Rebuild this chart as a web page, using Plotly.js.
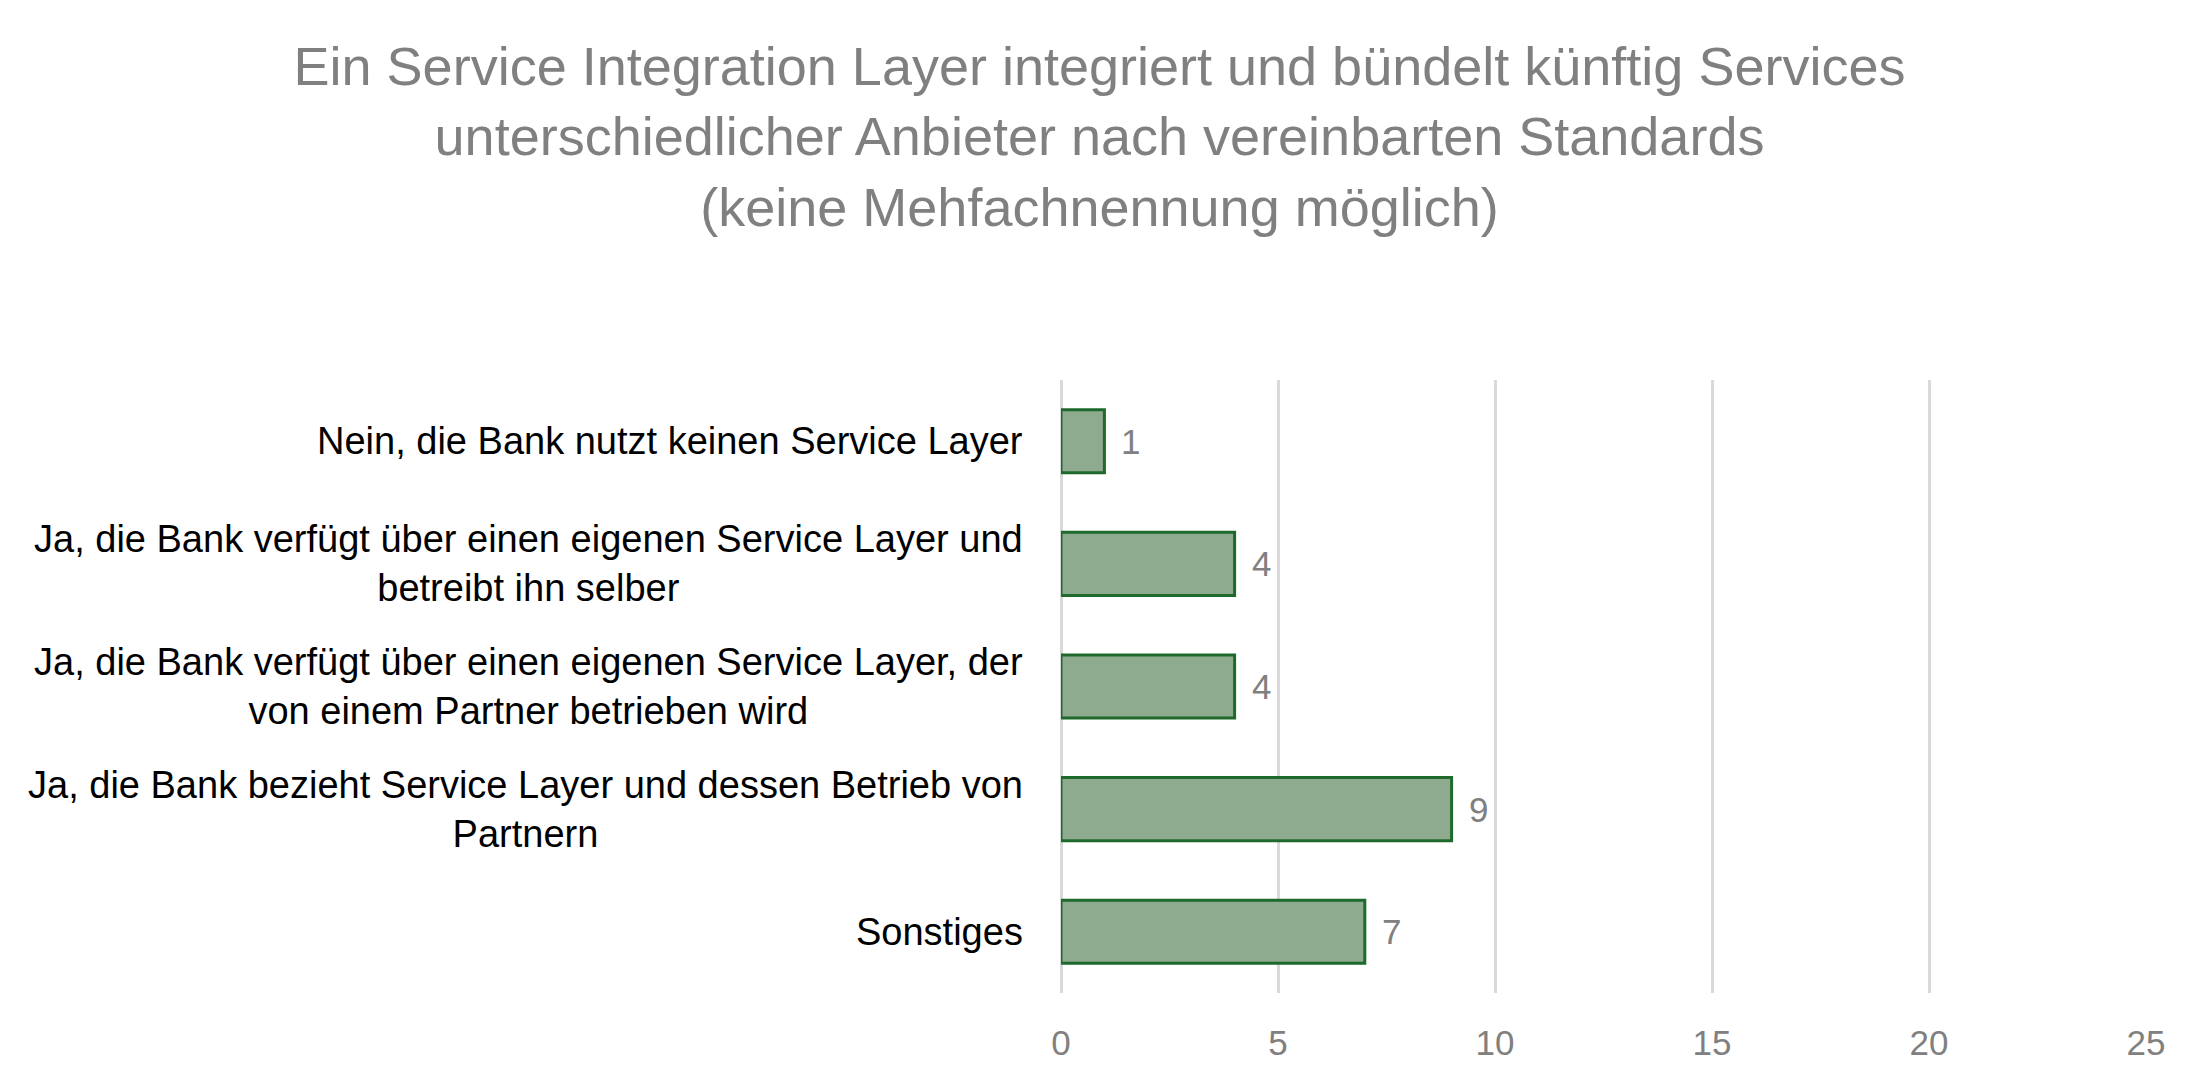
<!DOCTYPE html>
<html>
<head>
<meta charset="utf-8">
<script src="https://cdn.plot.ly/plotly-3.0.1.min.js"></script>
<style>html,body{margin:0;padding:0;background:#fff;}#chart{width:2199px;height:1092px;}</style>
</head>
<body>
<div id="chart"></div>
<script>
const categories = [
  "Nein, die Bank nutzt keinen Service Layer",
  "Ja, die Bank verfügt über einen eigenen Service Layer und<br>betreibt ihn selber",
  "Ja, die Bank verfügt über einen eigenen Service Layer, der<br>von einem Partner betrieben wird",
  "Ja, die Bank bezieht Service Layer und dessen Betrieb von<br>Partnern",
  "Sonstiges"
];
const values = [1, 4, 4, 9, 7];
const xTicks = [0, 5, 10, 15, 20, 25];
const titleText = "Ein Service Integration Layer integriert und bündelt künftig Services<br>unterschiedlicher Anbieter nach vereinbarten Standards<br>(keine Mehfachnennung möglich)";

const font = "'Liberation Sans', Arial, sans-serif";

const trace = {
  type: 'bar',
  orientation: 'h',
  x: values,
  y: categories,
  marker: { color: '#8fab8f', line: { color: '#1e6a2c', width: 3 } },
  hoverinfo: 'none'
};

const annotations = [];
categories.forEach((c, i) => {
  annotations.push({
    xref: 'paper', yref: 'y', x: 0, y: c, xanchor: 'right', yanchor: 'middle',
    xshift: -36, align: 'center', showarrow: false, text: c,
    font: { family: font, size: 38, color: '#000000' }
  });
  annotations.push({
    xref: 'x', yref: 'y', x: values[i], y: c, xanchor: 'left', yanchor: 'middle',
    xshift: 15, showarrow: false, text: String(values[i]),
    font: { family: font, size: 35, color: '#808080' }
  });
});

const layout = {
  width: 2199, height: 1092,
  paper_bgcolor: '#ffffff', plot_bgcolor: '#ffffff',
  margin: { l: 1061, r: 53, t: 380, b: 99 },
  title: {
    text: titleText, x: 0.5, xanchor: 'center', xref: 'container',
    y: 0.922, yref: 'container', yanchor: 'top',
    font: { family: font, size: 54, color: '#808080' }
  },
  xaxis: {
    range: [0, 25], tickvals: xTicks, ticktext: xTicks.map(String),
    showgrid: true, gridcolor: '#d9d9d9', gridwidth: 3,
    zeroline: true, zerolinecolor: '#d9d9d9', zerolinewidth: 3,
    showline: false, ticks: '', ticklabelstandoff: 26,
    tickfont: { family: font, size: 35, color: '#808080' }
  },
  yaxis: {
    autorange: 'reversed', showticklabels: false, showgrid: false,
    zeroline: false, showline: false, ticks: ''
  },
  bargap: 0.485,
  showlegend: false,
  annotations: annotations
};

Plotly.newPlot('chart', [trace], layout, { displayModeBar: false, staticPlot: true });
</script>
</body>
</html>
